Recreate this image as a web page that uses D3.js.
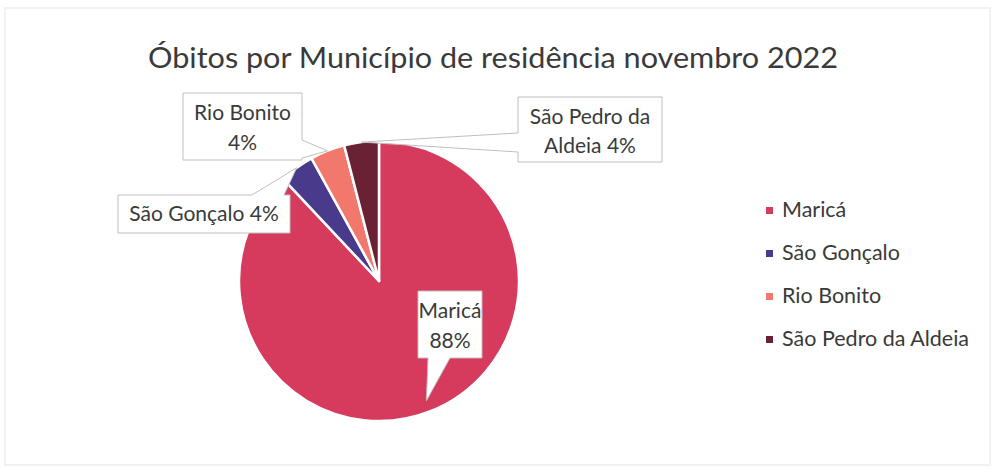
<!DOCTYPE html>
<html>
<head>
<meta charset="utf-8">
<script src="https://cdn.jsdelivr.net/npm/d3@7"></script>
<style>
  body { margin: 0; background: #fff; }
  text { font-family: Lato, "Open Sans", sans-serif; fill: #3a3a3a; }
</style>
</head>
<body>
<script>
// data
var municipios = ["Maricá", "São Gonçalo", "Rio Bonito", "São Pedro da Aldeia"];
var obitos = [22, 1, 1, 1];
var cores = ["#d63a5c", "#4a3a8c", "#f2786e", "#6a2133"];
var titulo = "Óbitos por Município de residência novembro 2022";

var width = 998, height = 469;
var cx = 379, cy = 281, radius = 140;

var svg = d3.select("body").append("svg")
            .attr("width", width)
            .attr("height", height);

// faint frame of the scanned chart
svg.append("rect")
   .attr("x", 5).attr("y", 8)
   .attr("width", 985).attr("height", 457)
   .attr("fill", "none")
   .attr("stroke", "#f2f2f2")
   .attr("stroke-width", 2);

svg.append("text")
   .attr("x", 493).attr("y", 68)
   .attr("text-anchor", "middle")
   .attr("font-size", 28)
   .attr("textLength", 690)
   .attr("lengthAdjust", "spacingAndGlyphs")
   .text(titulo);

var total = d3.sum(obitos);
var pie = d3.pie().sort(null)(obitos);
var arc = d3.arc().innerRadius(0).outerRadius(radius);

var g = svg.append("g").attr("transform", "translate(" + cx + "," + cy + ")");
g.selectAll("path")
 .data(pie)
 .enter()
 .append("path")
 .attr("d", arc)
 .attr("fill", function(d, i) { return cores[i]; })
 .attr("stroke", "#fff")
 .attr("stroke-width", 2.5)
 .attr("stroke-linejoin", "round");

function pct(i) { return Math.round(obitos[i] / total * 100) + "%"; }

// callout boxes: box + tail base on one side, tip on slice
var callouts = [
  { box: [418, 291, 64, 67], side: "bottom", base: [428, 450], r: 0.92, lines: ["Maricá", pct(0)], dy: [318, 348] },
  { box: [118, 195, 172, 38], side: "top", base: [252, 284], r: 1.0, lines: [municipios[1] + " " + pct(1)], dy: [221] },
  { box: [183, 93, 119, 67], side: "right", base: [140, 158], r: 1.0, lines: ["Rio Bonito", pct(2)], dy: [120, 150] },
  { box: [518, 97, 144, 65], side: "left", base: [133, 152], r: 1.0, lines: ["São Pedro da", "Aldeia " + pct(3)], dy: [124, 153] }
];

function tip(d, r) {
  var a = d.startAngle + (d.endAngle - d.startAngle) / 2;
  return [cx + Math.sin(a) * radius * r, cy - Math.cos(a) * radius * r];
}

callouts.forEach(function(c, i) {
  var x = c.box[0], y = c.box[1], w = c.box[2], h = c.box[3];
  var t = tip(pie[i], c.r);
  var p;
  if (c.side == "bottom") {
    p = [[x, y], [x + w, y], [x + w, y + h], [c.base[1], y + h], t, [c.base[0], y + h], [x, y + h]];
  } else if (c.side == "top") {
    p = [[x, y], [c.base[0], y], t, [c.base[1], y], [x + w, y], [x + w, y + h], [x, y + h]];
  } else if (c.side == "right") {
    p = [[x, y], [x + w, y], [x + w, c.base[0]], t, [x + w, c.base[1]], [x + w, y + h], [x, y + h]];
  } else {
    p = [[x, y], [x + w, y], [x + w, y + h], [x, y + h], [x, c.base[1]], t, [x, c.base[0]]];
  }
  svg.append("path")
     .attr("d", d3.line()(p) + "Z")
     .attr("fill", "#fff")
     .attr("stroke", "#bfbfbf")
     .attr("stroke-width", 1);
  c.lines.forEach(function(s, k) {
    svg.append("text")
       .attr("x", x + w / 2)
       .attr("y", c.dy[k])
       .attr("text-anchor", "middle")
       .attr("font-size", 21)
       .text(s);
  });
});

// legend
var legend = svg.selectAll(".legend")
                .data(municipios)
                .enter()
                .append("g")
                .attr("class", "legend")
                .attr("transform", function(d, i) { return "translate(766," + (210 + i * 43) + ")"; });
legend.append("rect")
      .attr("x", 0).attr("y", -3)
      .attr("width", 7).attr("height", 7)
      .attr("fill", function(d, i) { return cores[i]; });
legend.append("text")
      .attr("x", 16).attr("y", 7)
      .attr("font-size", 21.5)
      .text(function(d) { return d; });
</script>
</body>
</html>
